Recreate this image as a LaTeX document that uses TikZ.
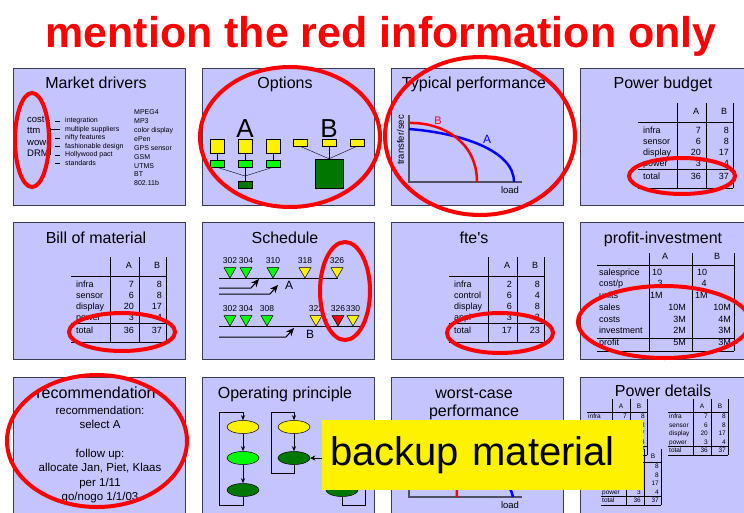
\documentclass[tikz,border=0pt]{standalone}
\usepackage{fontspec}
\setmainfont{Liberation Sans}[Ligatures=TeXOff]
\usetikzlibrary{arrows.meta,shapes.geometric,positioning}

\definecolor{panelfill}{RGB}{196,196,255}
\definecolor{panelline}{RGB}{60,60,80}
\definecolor{axisgray}{RGB}{80,80,100}
\definecolor{markred}{RGB}{255,0,0}
\definecolor{brightgreen}{RGB}{0,255,0}
\definecolor{deepgreen}{RGB}{0,120,0}
\definecolor{curveblue}{RGB}{0,0,255}

\tikzset{
  panel/.style={draw=panelline, line width=1pt, fill=panelfill, inner sep=0,
                minimum width=172pt, minimum height=137pt},
  paneltitle/.style={anchor=base, inner sep=0, font=\fontsize{16}{19}\selectfont},
  tabtext/.style={inner sep=0, text height=6.5pt, text depth=2pt, font=\fontsize{9}{10}\selectfont},
  smalltext/.style={inner sep=0, text height=5pt, text depth=1.5pt, font=\fontsize{7}{8}\selectfont},
  tinytext/.style={inner sep=0, text height=4.7pt, text depth=1.4pt, font=\fontsize{6.5}{7}\selectfont},
  schedtext/.style={inner sep=0, font=\fontsize{8.5}{9}\selectfont},
  axistext/.style={inner sep=0, font=\fontsize{9.5}{10}\selectfont},
  tabline/.style={draw=black, line width=0.8pt},
  axis/.style={draw=axisgray, line width=1.5pt},
  optbox/.style={draw=black, line width=0.5pt, inner sep=0, minimum width=14pt, minimum height=14pt},
  milestone/.style={regular polygon, regular polygon sides=3, shape border rotate=180,
                    draw=black, line width=0.5pt, inner sep=0, minimum size=14pt},
  slip/.style={line width=1pt, -{Stealth[length=8pt,width=7pt]}},
  opnode/.style={ellipse, draw=black, line width=0.5pt, inner sep=0, minimum width=32pt, minimum height=13pt},
  flow/.style={line width=0.8pt, -{Stealth[length=5pt,width=4pt]}},
  redmark/.style={draw=markred, line width=4pt},
}

% table with rows label/A/B, then the total row
\newcommand{\budgettable}[6]{%
  \begin{scope}[shift={(#2,#3)}]
    \draw[tabline] (97,35) -- (97,120) (126,35) -- (126,120) (153,35) -- (153,120);
    \draw[tabline] (58,54) -- (153,54) (58,101) -- (153,101) (58,120) -- (153,120);
    \node[tabtext] (#1-A) at (116,44) {A};
    \node[tabtext] (#1-B) at (144,44) {B};
    \foreach \lbl/\va/\vb [count=\r] in {#4} {
      \node[tabtext, anchor=west] (#1-l\r) at (63,{52+11*\r}) {\lbl};
      \node[tabtext, anchor=east] (#1-a\r) at (121,{52+11*\r}) {\va};
      \node[tabtext, anchor=east] (#1-b\r) at (149,{52+11*\r}) {\vb};
    }
    \node[tabtext, anchor=west] (#1-lt) at (63,109) {total};
    \node[tabtext, anchor=east] (#1-at) at (121,109) {#5};
    \node[tabtext, anchor=east] (#1-bt) at (149,109) {#6};
  \end{scope}}

% small power table of the details sheet
\newcommand{\detailtable}[3]{%
  \begin{scope}[shift={(#2,#3)}]
    \draw[tabline, line width=0.6pt] (0,0) -- (0,56) (18,0) -- (18,56) (35,0) -- (35,56);
    \draw[tabline, line width=0.6pt] (-25,13) -- (35,13) (-25,47.5) -- (35,47.5) (-25,56) -- (35,56);
    \node[tinytext] (#1-A) at (9,8) {A};
    \node[tinytext] (#1-B) at (27,8) {B};
    \foreach \lbl/\va/\vb [count=\r] in {infra/7/8, sensor/6/8, display/20/17, power/3/4, total/36/37} {
      \node[tinytext, anchor=west] (#1-l\r) at (-24,{9.5+8.5*\r}) {\lbl};
      \node[tinytext, anchor=east] (#1-a\r) at (15,{9.5+8.5*\r}) {\va};
      \node[tinytext, anchor=east] (#1-b\r) at (33,{9.5+8.5*\r}) {\vb};
    }
  \end{scope}}

\begin{document}
\begin{tikzpicture}[x=1pt, y=-1pt]
\useasboundingbox (0,0) rectangle (744,512);
\fill[white] (0,0) rectangle (744,512);

\node[anchor=base, inner sep=0, text=markred, font=\bfseries\fontsize{43}{50}\selectfont]
  (headline) at (381,47) {mention the red information only};

% the twelve sheets
\foreach \px [count=\c] in {13,202,391,580}
  \foreach \py [count=\r] in {68,222,377}
    \node[panel, anchor=north west] (p\r\c) at (\px,\py) {};

\node[paneltitle] (t11) at (96,88) {Market drivers};
\node[paneltitle] (t12) at (285,88) {Options};
\node[paneltitle] (t13) at (474,88) {Typical performance};
\node[paneltitle] (t14) at (663,88) {Power budget};
\node[paneltitle] (t21) at (96,243) {Bill of material};
\node[paneltitle] (t22) at (285,243) {Schedule};
\node[paneltitle] (t23) at (474,243) {fte's};
\node[paneltitle] (t24) at (663,243) {profit-investment};
\node[paneltitle] (t31) at (96,398) {recommendation};
\node[paneltitle] (t32) at (285,398) {Operating principle};
\node[paneltitle] (t33) at (474,398) {worst-case};
\node[paneltitle] (t33b) at (474,416) {performance};
\node[paneltitle] (t34) at (663,396) {Power details};

% Market drivers
\foreach \w/\y [count=\i] in {cost/120,ttm/131,wow/143,DRM/154}
  \node[tabtext, anchor=west, font=\fontsize{9.5}{10}\selectfont] (drv\i) at (27,\y) {\w};
\foreach \t [count=\i] in {integration, multiple suppliers, nifty features,
                           fashionable design, Hollywood pact, standards} {
  \node[smalltext, anchor=west] (need\i) at (65,{112.5+8.5*\i}) {\t};
  \draw[line width=0.8pt] ([xshift=-10pt]need\i.west) -- ([xshift=-5pt]need\i.west);
}
\foreach \t [count=\i] in {MPEG4, MP3, color display, ePen, GPS sensor, GSM, UTMS, BT, 802.11b}
  \node[smalltext, anchor=west] (feat\i) at (134,{104+8.9*\i}) {\t};
\draw[line width=0.8pt] (drv1.east) ++(2,0) -- (50,120);
\draw[line width=0.8pt] (50,128) -- (50,155) (50,129.5) -- (55,129.5);
\draw[line width=0.8pt] (drv3.east) -- (50,143) (drv4.east) -- (50,153);

% Options
\node[anchor=base, inner sep=0, font=\fontsize{26}{30}\selectfont] (optA) at (245,137) {A};
\node[anchor=base, inner sep=0, font=\fontsize{26}{30}\selectfont] (optB) at (329,137) {B};
\coordinate (ajoin) at (245,176);
\node[optbox, fill=deepgreen, minimum height=7pt] (adk) at (245,184.5) {};
\draw (ajoin) -- (adk.north);
\foreach \x [count=\i] in {217,245,273} {
  \node[optbox, fill=yellow] (ay\i) at (\x,146) {};
  \node[optbox, fill=brightgreen, minimum height=7pt] (ag\i) at (\x,163.5) {};
  \draw (ay\i) -- (ag\i);
  \draw (ag\i.south) -- (ajoin);
}
\node[optbox, fill=deepgreen, minimum width=28pt, minimum height=29pt] (bdk) at (329,173.5) {};
\foreach \x [count=\i] in {300,329,357} {
  \node[optbox, fill=yellow, minimum height=7pt] (by\i) at (\x,142.5) {};
  \draw (by\i.south) -- (bdk.north);
}

% Typical performance
\coordinate (tpO) at (409,182);
\draw[axis] (409,115) -- (tpO) -- (522,182);
\node[axistext, rotate=90] (tpy) at (400.5,140) {transfer/sec};
\node[axistext] (tpx) at (510,190) {load};
\draw[curveblue, line width=2.5pt] (409,129) .. controls (460,133) and (514,150) .. (514,182);
\draw[markred, line width=2.5pt] (409,123) .. controls (440,122) and (477,140) .. (477,182);
\node[inner sep=0, text=markred, font=\fontsize{11}{12}\selectfont] (tpB) at (438,121) {B};
\node[inner sep=0, text=curveblue, font=\fontsize{12}{13}\selectfont] (tpA) at (487,139) {A};

% Power budget, Bill of material, fte's
\budgettable{pb}{580}{68}{infra/7/8, sensor/6/8, display/20/17, power/3/4}{36}{37}
\budgettable{bom}{13}{222}{infra/7/8, sensor/6/8, display/20/17, power/3/4}{36}{37}
\budgettable{fte}{391}{222}{infra/2/8, control/6/4, display/6/8, appl/3/3}{17}{23}

% Schedule
\draw[line width=1pt] (219,278) -- (338,278);
\foreach \x/\c/\t [count=\i] in {230/brightgreen/302, 246/brightgreen/304, 273/brightgreen/310,
                                 305/yellow/318, 337/yellow/326} {
  \node[milestone, fill=\c] (sa\i) at (\x,271) {};
  \node[schedtext] (sal\i) at (\x,261) {\t};
}
\draw[slip] (219,288) -- (251,288) -- (259,279);
\draw[slip] (219,294) -- (270,294) -- (278,285);
\node[inner sep=0, font=\fontsize{12}{13}\selectfont] (schA) at (289,285) {A};
\draw[line width=1pt] (219,326) -- (361,326);
\foreach \x/\c/\t [count=\i] in {230/brightgreen/302, 246/brightgreen/304, 267/brightgreen/308,
                                 316/yellow/322, 338/markred/326, 353/yellow/330} {
  \node[milestone, fill=\c] (sb\i) at (\x,319) {};
  \node[schedtext] (sbl\i) at (\x,309) {\t};
}
\draw[slip] (219,337) -- (286,337) -- (294,328);
\node[inner sep=0, font=\fontsize{12}{13}\selectfont] (schB) at (310,334) {B};

% profit-investment
\draw[tabline] (649,253) -- (649,351) (692,253) -- (692,351) (734,253) -- (734,351);
\draw[tabline] (597,265) -- (734,265) (597,338) -- (734,338) (597,351) -- (734,351);
\node[tabtext] (piA) at (665,257) {A};
\node[tabtext] (piB) at (717,257) {B};
\foreach \lbl/\y [count=\i] in {salesprice/273, {cost/p}/284, units/296, sales/308,
                                costs/320, investment/331, profit/343}
  \node[tabtext, anchor=west] (pil\i) at (599,\y) {\lbl};
\node[tabtext, anchor=west] (pia1) at (652,273) {10};
\node[tabtext, anchor=west] (pib1) at (697,273) {10};
\node[tabtext] (pia2) at (660,284) {3};
\node[tabtext] (pib2) at (704,284) {4};
\node[tabtext, anchor=west] (pia3) at (650,296) {1M};
\node[tabtext, anchor=west] (pib3) at (695,296) {1M};
\foreach \va/\vb/\y [count=\i from 4] in {10M/10M/308, 3M/4M/320, 2M/3M/331, 5M/3M/343} {
  \node[tabtext, anchor=east] (pia\i) at (686,\y) {\va};
  \node[tabtext, anchor=east] (pib\i) at (731,\y) {\vb};
}

% recommendation
\node[inner sep=0, anchor=north, align=center, font=\fontsize{11.5}{14.3}\selectfont] (recbody)
  at (100,406) {recommendation:\\select A\\[14.3pt]follow up:\\allocate Jan, Piet, Klaas\\per 1/11\\go/nogo 1/1/03};

% Operating principle
\node[opnode, fill=yellow] (op1a) at (243,427) {};
\node[opnode, fill=brightgreen] (op1b) at (243,458) {};
\node[opnode, fill=deepgreen] (op1c) at (243,490) {};
\draw[flow] (op1a) -- (op1b);
\draw[flow] (op1b) -- (op1c);
\draw[flow] (op1c.south) -- ++(0,8.5) -| (219,412) -| (op1a.north);
\node[opnode, fill=yellow] (op2a) at (294,427) {};
\node[opnode, fill=deepgreen] (op2b) at (294,458) {};
\draw[flow] (op2a) -- (op2b);
\draw[flow] (op2b.south) -- ++(0,8.5) -| (271,412) -| (op2a.north);
\coordinate (op2link) at (328,458);
\draw[line width=0.8pt, {Stealth[length=5pt,width=5pt]}-{Stealth[length=5pt,width=5pt]}] (op2b.east) -- (op2link);
\node[opnode, fill=deepgreen] (op3c) at (342,490) {};
\coordinate (op3loop) at (365,440);
\draw[line width=0.8pt] (op3c.south) -- ++(0,8.5) -| (op3loop);

% worst-case performance
\draw[axis] (409,430) -- (409,497) -- (522,497);
\draw[curveblue, line width=2.5pt] (409,444) .. controls (460,448) and (508,470) .. (513,497);
\draw[markred, line width=2.5pt] (409,438) .. controls (435,437) and (457,455) .. (457,497);
\node[axistext] (wcx) at (510,505) {load};

% Power details
\detailtable{pd1}{612}{399}
\detailtable{pd2}{693}{399}
\detailtable{pd3}{626}{449}

% red marks
\draw[redmark] (32,140) ellipse [x radius=17, y radius=47];
\draw[redmark] (290,137) ellipse [x radius=90, y radius=70];
\draw[redmark] (480,136) ellipse [x radius=95, y radius=79];
\draw[redmark] (682,176) ellipse [x radius=53, y radius=18];
\draw[redmark] (122,332) ellipse [x radius=53, y radius=19];
\draw[redmark] (345,291) ellipse [x radius=25, y radius=49];
\draw[redmark] (500,333) ellipse [x radius=53, y radius=20];
\draw[redmark] (664,322) ellipse [x radius=86, y radius=36];
\draw[redmark] (97,441) ellipse [x radius=90, y radius=66];

% overlay
\node[fill=yellow, anchor=north west, minimum width=321pt, minimum height=70pt,
      text width=305pt, align=left, inner xsep=8pt, inner ysep=0,
      font=\fontsize{40}{46}\selectfont] (backup) at (322,420) {backup material};
\end{tikzpicture}
\end{document}
